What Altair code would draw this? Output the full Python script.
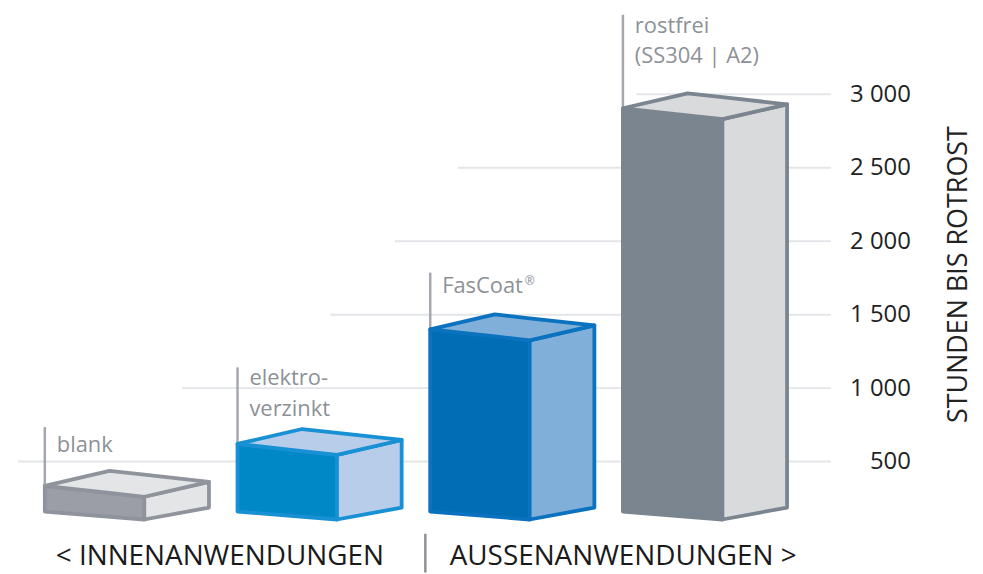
import altair as alt
import pandas as pd

# ---------------- data ----------------
categories = ["blank", "elektroverzinkt", "FasCoat", "rostfrei"]
label_lines = [["blank"], ["elektro-", "verzinkt"], ["FasCoat"], ["rostfrei", "(SS304 | A2)"]]
label_marks = ["", "", "®", ""]
hours = [335, 620, 1400, 2905]          # front top edge of each block (hours)
base_hours = 160                         # bottom of the blocks
tick_values = [500, 1000, 1500, 2000, 2500, 3000]
group_labels = ["< INNENANWENDUNGEN", "AUSSENANWENDUNGEN >"]
axis_title = "STUNDEN BIS ROTROST"

# ---------------- styles / layout ----------------
FONT = "Open Sans"
front_colors = ["#9b9ea7", "#0088c6", "#006db4", "#7b8590"]
face_colors = ["#e4e5e7", "#b8cdea", "#80b0da", "#d9dadc"]
edge_colors = ["#8f939b", "#1790d4", "#0a72be", "#7b8590"]

W, H = 827, 566
X0, X1 = -0.191, 4.0785
Y0, Y1 = -255.3, 3577.6
XPP = (X1 - X0) / W       # x units per pixel
VPP = (Y1 - Y0) / H       # value units per pixel


def dx(px):
    return px * XPP


def dy(px):
    return px * VPP


FRONT_W, SIDE_W = dx(100), dx(65)
TOP_FRONT_SLOPE, TOP_SIDE_SLOPE = dy(11), dy(15)
BOT_FRONT_SLOPE, BOT_SIDE_SLOPE = dy(8), dy(12)
leader_lift_px = [59, 77, 57, 94]
text_lift_px = [34, 28, 37, 45]       # baseline of the last label line above top
LINE_PX = 31
grid_start_px = [10, 175, 324, 389, 452, 632]

# ---------------- build tables ----------------
face_rows = []
keys, fills, strokes = [], [], []
for i, (cat, v) in enumerate(zip(categories, hours)):
    xL = i
    xR = i + FRONT_W
    xB = i + SIDE_W
    xBR = xR + SIDE_W
    T, B = v, base_hours
    a, b = TOP_FRONT_SLOPE, TOP_SIDE_SLOPE
    k = f"{i}-front"
    keys.append(k); fills.append(front_colors[i]); strokes.append(edge_colors[i])
    face_rows += [
        dict(key=k, x=xL, y=T, y2=B),
        dict(key=k, x=xR, y=T - a, y2=B - BOT_FRONT_SLOPE),
    ]
    k = f"{i}-side"
    keys.append(k); fills.append(face_colors[i]); strokes.append(edge_colors[i])
    face_rows += [
        dict(key=k, x=xR, y=T - a, y2=B - BOT_FRONT_SLOPE),
        dict(key=k, x=xBR, y=T - a + b, y2=B - BOT_FRONT_SLOPE + BOT_SIDE_SLOPE),
    ]
    k = f"{i}-top"
    keys.append(k); fills.append(face_colors[i]); strokes.append(edge_colors[i])
    face_rows += [
        dict(key=k, x=xL, y=T, y2=T),
        dict(key=k, x=xB, y=T + b, y2=T - a * SIDE_W / FRONT_W),
        dict(key=k, x=xR, y=T + b - a * (FRONT_W - SIDE_W) / FRONT_W, y2=T - a),
        dict(key=k, x=xBR, y=T - a + b, y2=T - a + b),
    ]
faces = pd.DataFrame(face_rows)

leaders = pd.DataFrame({
    "x": list(range(len(categories))),
    "y": hours,
    "y2": [v + dy(l) for v, l in zip(hours, leader_lift_px)],
})

text_rows = []
mark_rows = []
for i, (lines, v) in enumerate(zip(label_lines, hours)):
    n = len(lines)
    for j, line in enumerate(lines):
        text_rows.append(dict(x=i + dx(12), y=v + dy(text_lift_px[i] + (n - 1 - j) * LINE_PX), text=line))
    if label_marks[i]:
        mark_rows.append(dict(x=i + dx(12 + 83), y=v + dy(text_lift_px[i] + 8), text=label_marks[i]))
labels = pd.DataFrame(text_rows)
marks = pd.DataFrame(mark_rows)

grid = pd.DataFrame({
    "x": [X0 + dx(p) for p in grid_start_px],
    "x2": [X1] * len(tick_values),
    "y": tick_values,
})

groups = pd.DataFrame({
    "x": [X0 + dx(48), X0 + dx(444)],
    "y": [Y0 + dy(H - 550.5)] * 2,
    "text": group_labels,
})
sep = pd.DataFrame({"x": [X0 + dx(419.5)], "y": [Y0 + dy(H - 527)], "y2": [Y0]})

xs = alt.Scale(domain=[X0, X1], nice=False, zero=False)
ys = alt.Scale(domain=[Y0, Y1], nice=False, zero=False)

yaxis = alt.Axis(
    orient="right", values=tick_values, grid=False, domain=False,
    ticks=False, tickSize=0, labelPadding=80, labelAlign="right",
    labelBaseline="middle", labelFlush=False, labelOverlap=False,
    labelFont=FONT, labelFontSize=24, labelColor="#222222",
    labelExpr="replace(format(datum.value, ','), ',', ' ')",
    title=axis_title, titleFont=FONT, titleFontSize=27,
    titleFontWeight="normal", titleColor="#222222", titleAngle=270,
    titleX=128, titleY=266, titleAlign="center", titleBaseline="middle",
)


def X(field="x:Q"):
    return alt.X(field, scale=xs, axis=None)


def Y(field="y:Q"):
    return alt.Y(field, scale=ys, axis=yaxis)


grid_layer = alt.Chart(grid).mark_rule(color="#e3e5e8", strokeWidth=2).encode(
    x=X(), x2="x2:Q", y=Y(),
)

leader_layer = alt.Chart(leaders).mark_rule(color="#a4a8ae", strokeWidth=2.5).encode(
    x=X(), y=Y(), y2="y2:Q",
)

face_layer = alt.Chart(faces).mark_area(
    strokeWidth=3.8, strokeJoin="round", opacity=1, fillOpacity=1
).encode(
    x=X(), y=Y(), y2="y2:Q",
    detail="key:N",
    fill=alt.Fill("key:N", scale=alt.Scale(domain=keys, range=fills), legend=None),
    stroke=alt.Stroke("key:N", scale=alt.Scale(domain=keys, range=strokes), legend=None),
)

label_layer = alt.Chart(labels).mark_text(
    align="left", baseline="alphabetic", font=FONT, fontSize=22, color="#8d9197"
).encode(x=X(), y=Y(), text="text:N")

mark_layer = alt.Chart(marks).mark_text(
    align="left", baseline="alphabetic", font=FONT, fontSize=12, color="#8d9197"
).encode(x=X(), y=Y(), text="text:N")

group_layer = alt.Chart(groups).mark_text(
    align="left", baseline="middle", font=FONT, fontSize=28, color="#1a1a1a"
).encode(x=X(), y=Y(), text="text:N")

sep_layer = alt.Chart(sep).mark_rule(color="#8d9197", strokeWidth=2.5).encode(
    x=X(), y=Y(), y2="y2:Q",
)

chart = alt.layer(
    grid_layer, leader_layer, face_layer, label_layer, mark_layer, group_layer, sep_layer
).resolve_scale(fill="independent", stroke="independent").properties(
    width=W, height=H,
    autosize=alt.AutoSizeParams(type="none"),
    padding={"left": 0, "top": 0, "right": 145, "bottom": 0},
    background="white",
).configure_view(stroke=None)

chart.save("out.html", embed_options={"renderer": "svg", "actions": False})
